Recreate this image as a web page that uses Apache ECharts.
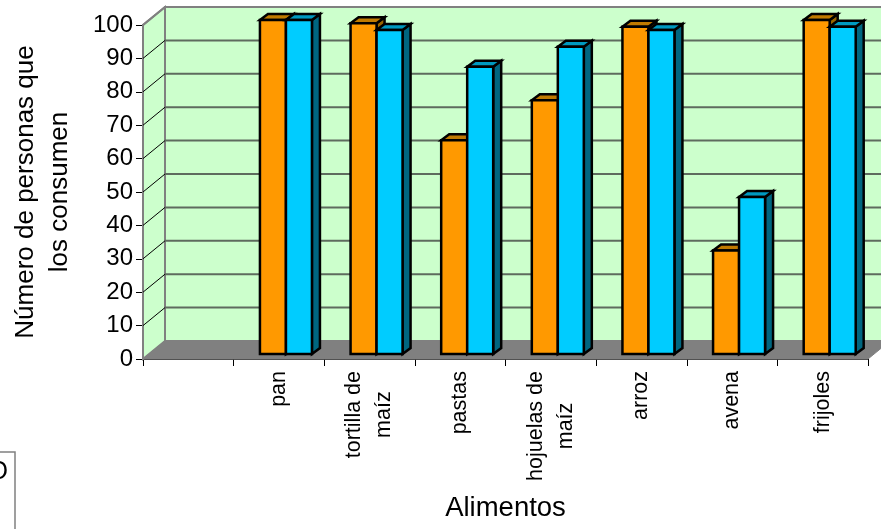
<!DOCTYPE html>
<html>
<head>
<meta charset="utf-8">
<style>html,body{margin:0;padding:0;background:#fff}#c{width:881px;height:529px}</style>
<script src="https://cdn.jsdelivr.net/npm/echarts@6/dist/echarts.min.js"></script>
</head>
<body>
<div id="c"></div>
<script>
const categories = ['', 'pan', 'tortilla de\nmaíz', 'pastas', 'hojuelas de\nmaíz', 'arroz', 'avena', 'frijoles'];
const serieNaranja = [null, 100, 99, 64, 76, 98, 31, 100];
const serieAzul = [null, 100, 97, 86, 92, 97, 47, 98];
const yTicks = [10, 20, 30, 40, 50, 60, 70, 80, 90, 100];

// Pseudo-3D geometry, in pixels
const WALL_DX = 22, WALL_DY = -18;
const BAR_DX = 8, BAR_DY = -6;
const BAR_INSET_Y = -5, BAR_SHIFT_X = 7, BAR_W = 26;
const FONT = '"Liberation Sans", Arial, sans-serif';

const chart = echarts.init(document.getElementById('c'), null, { renderer: 'canvas' });

function poly(points, fill, stroke, lineWidth) {
  return { type: 'polygon', shape: { points }, style: { fill, stroke, lineWidth, lineJoin: 'miter' } };
}

function renderWalls(params) {
  const g = params.coordSys;
  const x0 = g.x, x1 = g.x + g.width, y0 = g.y, y1 = g.y + g.height;
  const edge = '#808080';
  return {
    type: 'group',
    children: [
      poly([[x0, y1], [x0 + WALL_DX, y1 + WALL_DY], [x0 + WALL_DX, y0 + WALL_DY], [x0, y0]], '#CCFFCC', edge, 2),
      poly([[x0 + WALL_DX, y1 + WALL_DY], [x1 + WALL_DX, y1 + WALL_DY], [x1 + WALL_DX, y0 + WALL_DY], [x0 + WALL_DX, y0 + WALL_DY]], '#CCFFCC', edge, 2),
      poly([[x0, y1], [x1, y1], [x1 + WALL_DX, y1 + WALL_DY], [x0 + WALL_DX, y1 + WALL_DY]], '#808080', edge, 1)
    ]
  };
}

function renderGridLine(params, api) {
  const g = params.coordSys;
  const y = api.coord([0, api.value(1)])[1];
  const x0 = g.x, x1 = g.x + g.width;
  const isTop = api.value(1) === 100;
  return {
    type: 'group',
    children: [
      { type: 'line', shape: { x1: x0, y1: y, x2: x0 + WALL_DX, y2: y + WALL_DY },
        style: { stroke: isTop ? '#808080' : '#000', lineWidth: isTop ? 2 : 1 } },
      { type: 'line', shape: { x1: x0 + WALL_DX, y1: y + WALL_DY, x2: x1 + WALL_DX, y2: y + WALL_DY },
        style: { stroke: isTop ? '#808080' : '#5E6B5E', lineWidth: 2 } }
    ]
  };
}

function barRenderer(side, front, top, dark) {
  return function (params, api) {
    if (api.value(1) == null || isNaN(api.value(1))) return;
    const base = api.coord([api.value(0), 0]);
    const head = api.coord([api.value(0), api.value(1)]);
    const left = base[0] + BAR_SHIFT_X + (side < 0 ? -BAR_W : 0);
    const right = left + BAR_W;
    const yb = base[1] + BAR_INSET_Y, yt = head[1] + BAR_INSET_Y;
    const ink = '#000';
    return {
      type: 'group',
      children: [
        poly([[right, yb], [right + BAR_DX, yb + BAR_DY], [right + BAR_DX, yt + BAR_DY], [right, yt]], dark, ink, 2.5),
        poly([[left, yt], [left + BAR_DX, yt + BAR_DY], [right + BAR_DX, yt + BAR_DY], [right, yt]], top, ink, 2.5),
        poly([[left, yb], [right, yb], [right, yt], [left, yt]], front, ink, 2.5)
      ]
    };
  };
}

chart.setOption({
  animation: false,
  backgroundColor: '#fff',
  grid: { left: 143, top: 25, width: 725, height: 334, containLabel: false, outerBoundsMode: 'none' },
  xAxis: {
    type: 'category',
    data: categories,
    name: 'Alimentos',
    nameLocation: 'middle',
    nameGap: 135,
    nameTextStyle: { fontFamily: FONT, fontSize: 27.5, color: '#000' },
    axisLine: { lineStyle: { color: '#222', width: 2 } },
    axisTick: { show: true, length: 7, alignWithLabel: false, lineStyle: { color: '#000', width: 1 } },
    axisLabel: {
      interval: 0, rotate: 90, margin: 12, color: '#000',
      formatter: v => v.split('\n').map(l => '{c|' + l + '}').join('\n'),
      rich: { c: { align: 'center', fontFamily: FONT, fontSize: 21.5, lineHeight: 30, color: '#000' } }
    },
    splitLine: { show: false }
  },
  yAxis: {
    type: 'value',
    min: 0,
    max: 100,
    interval: 10,
    name: 'Número de personas que\nlos consumen',
    nameLocation: 'middle',
    nameGap: 66,
    nameRotate: 90,
    nameTextStyle: { fontFamily: FONT, fontSize: 26, color: '#000', lineHeight: 34 },
    axisLine: { show: true, lineStyle: { color: '#555', width: 2 } },
    axisTick: { show: true, length: 7, lineStyle: { color: '#000', width: 1 } },
    axisLabel: { fontFamily: FONT, fontSize: 24, color: '#000', margin: 10 },
    splitLine: { show: false }
  },
  series: [
    { type: 'custom', name: 'paredes', silent: true, clip: false, z: 1, renderItem: renderWalls, data: [[0, 0]] },
    { type: 'custom', name: 'rejilla', silent: true, clip: false, z: 2, renderItem: renderGridLine,
      data: yTicks.map(v => [0, v]) },
    { type: 'custom', name: 'Naranja', clip: false, z: 3,
      renderItem: barRenderer(-1, '#FF9900', '#C07A00', '#996600'),
      data: serieNaranja.map((v, i) => [i, v]) },
    { type: 'custom', name: 'Azul', clip: false, z: 4,
      renderItem: barRenderer(1, '#00CCFF', '#0099C0', '#006680'),
      data: serieAzul.map((v, i) => [i, v]) }
  ],
  graphic: [
    { type: 'rect', silent: true, z: 10, shape: { x: -40, y: 452, width: 55, height: 120 },
      style: { fill: '#fff', stroke: '#808080', lineWidth: 1.5 } },
    { type: 'text', silent: true, z: 11, x: 8, y: 472,
      style: { text: 'O', font: '25px ' + FONT, fill: '#000', align: 'right', verticalAlign: 'middle' } }
  ]
});
</script>
</body>
</html>
